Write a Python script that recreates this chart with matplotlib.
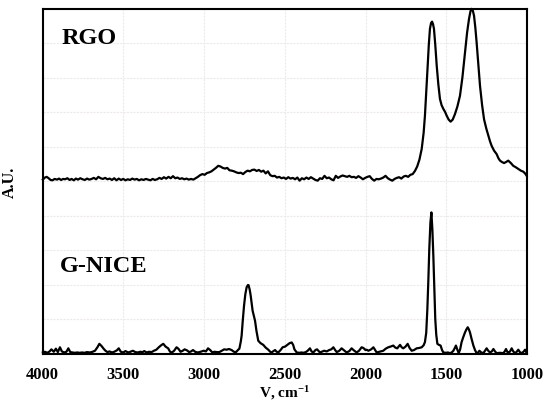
import matplotlib
matplotlib.use("Agg")
import matplotlib.pyplot as plt

plt.rcParams['font.family'] = ['Liberation Serif', 'DejaVu Serif']
plt.rcParams['mathtext.default'] = 'regular'

# ---------------- data ----------------
rgo_wn = [3998, 3985, 3974, 3962, 3950, 3938, 3925, 3910, 3898, 3885, 3872, 3860, 3846, 3832, 3820,
          3806, 3793, 3780, 3766, 3752, 3738, 3724, 3710, 3696, 3682, 3668, 3654, 3640, 3626, 3612,
          3598, 3584, 3570, 3556, 3542, 3528, 3514, 3500, 3486, 3472, 3458, 3444, 3430, 3416, 3402,
          3388, 3374, 3360, 3346, 3332, 3318, 3304, 3290, 3276, 3262, 3248, 3234, 3220, 3206, 3192,
          3178, 3164, 3150, 3136, 3122, 3108, 3094, 3080, 3066, 3052, 3038, 3024, 3010, 2996, 2982,
          2968, 2954, 2940, 2926, 2912, 2898, 2884, 2870, 2856, 2842, 2828, 2814, 2800, 2786, 2772,
          2758, 2744, 2730, 2716, 2702, 2688, 2674, 2660, 2646, 2632, 2618, 2604, 2590, 2576, 2562,
          2548, 2534, 2520, 2506, 2492, 2478, 2464, 2450, 2436, 2422, 2408, 2394, 2380, 2366, 2352,
          2338, 2324, 2310, 2296, 2282, 2268, 2254, 2240, 2226, 2212, 2198, 2184, 2170, 2156, 2142,
          2128, 2114, 2100, 2086, 2072, 2058, 2044, 2030, 2016, 2002, 1988, 1974, 1960, 1946, 1932,
          1918, 1904, 1890, 1876, 1862, 1848, 1834, 1820, 1806, 1792, 1778, 1764, 1750, 1736, 1722,
          1708, 1694, 1680, 1666, 1652, 1640, 1632, 1624, 1615, 1608, 1601, 1594, 1588, 1582, 1576,
          1568, 1559, 1549, 1539, 1529, 1518, 1507, 1497, 1485, 1473, 1460, 1446, 1431, 1415, 1400,
          1384, 1371, 1359, 1350, 1343, 1335, 1328, 1320, 1312, 1302, 1291, 1278, 1266, 1252, 1239,
          1229, 1219, 1204, 1188, 1177, 1167, 1155, 1142, 1130, 1116, 1100, 1085, 1070, 1054, 1038,
          1023, 1012, 1002]
rgo_int = [5.04, 5.10, 5.12, 5.08, 5.03, 5.02, 5.06, 5.04, 5.07, 5.03, 5.06, 5.05, 5.08, 5.03, 5.06,
           5.02, 5.07, 5.04, 5.08, 5.05, 5.03, 5.07, 5.04, 5.06, 5.09, 5.05, 5.12, 5.08, 5.06, 5.09,
           5.05, 5.07, 5.03, 5.08, 5.02, 5.07, 5.03, 5.06, 5.02, 5.05, 5.03, 5.07, 5.04, 5.06, 5.02,
           5.05, 5.03, 5.06, 5.04, 5.02, 5.06, 5.03, 5.05, 5.09, 5.06, 5.11, 5.07, 5.12, 5.08, 5.14,
           5.08, 5.10, 5.06, 5.08, 5.05, 5.07, 5.04, 5.06, 5.04, 5.08, 5.12, 5.17, 5.20, 5.18, 5.23,
           5.25, 5.28, 5.33, 5.38, 5.44, 5.42, 5.38, 5.36, 5.38, 5.31, 5.30, 5.28, 5.25, 5.23, 5.24,
           5.20, 5.26, 5.30, 5.28, 5.32, 5.33, 5.29, 5.32, 5.27, 5.30, 5.22, 5.28, 5.17, 5.14, 5.15,
           5.10, 5.12, 5.08, 5.10, 5.06, 5.11, 5.07, 5.09, 5.05, 5.10, 5.01, 5.08, 5.05, 5.10, 5.06,
           5.11, 5.07, 5.03, 5.01, 5.08, 5.06, 5.15, 5.08, 5.10, 5.05, 5.02, 5.15, 5.09, 5.13, 5.16,
           5.14, 5.12, 5.15, 5.11, 5.12, 5.09, 5.14, 5.10, 5.05, 5.09, 5.12, 5.14, 5.06, 5.01, 5.06,
           5.05, 5.07, 5.10, 5.15, 5.08, 5.04, 5.01, 5.06, 5.09, 5.11, 5.07, 5.13, 5.15, 5.12, 5.18,
           5.20, 5.29, 5.42, 5.62, 5.93, 6.40, 6.89, 7.60, 8.34, 8.95, 9.41, 9.58, 9.62, 9.55, 9.41,
           8.95, 8.34, 7.80, 7.38, 7.20, 7.09, 7.00, 6.89, 6.78, 6.72, 6.78, 6.94, 7.16, 7.47, 8.00,
           8.73, 9.30, 9.70, 9.92, 9.99, 9.93, 9.79, 9.45, 9.02, 8.40, 7.76, 7.20, 6.79, 6.52, 6.31,
           6.15, 6.02, 5.88, 5.78, 5.66, 5.59, 5.55, 5.52, 5.55, 5.59, 5.52, 5.44, 5.40, 5.35, 5.30,
           5.27, 5.22, 5.15]

gnice_wn = [3998, 3985, 3970, 3956, 3945, 3930, 3917, 3905, 3892, 3880, 3866, 3852, 3840, 3828, 3815,
            3800, 3785, 3770, 3755, 3740, 3725, 3706, 3690, 3675, 3660, 3648, 3635, 3620, 3610, 3598,
            3585, 3570, 3556, 3540, 3528, 3515, 3500, 3486, 3470, 3456, 3440, 3425, 3410, 3395, 3380,
            3370, 3355, 3340, 3325, 3310, 3295, 3280, 3265, 3252, 3238, 3222, 3210, 3198, 3185, 3170,
            3159, 3145, 3132, 3120, 3105, 3092, 3080, 3068, 3055, 3040, 3028, 3015, 3002, 2988, 2975,
            2962, 2948, 2935, 2920, 2905, 2890, 2875, 2860, 2845, 2829, 2815, 2802, 2790, 2781, 2772,
            2767, 2760, 2752, 2744, 2736, 2728, 2724, 2717, 2711, 2705, 2699, 2692, 2684, 2675, 2664,
            2650, 2633, 2618, 2602, 2590, 2581, 2570, 2560, 2550, 2540, 2526, 2513, 2498, 2484, 2470,
            2457, 2448, 2440, 2426, 2410, 2395, 2385, 2370, 2358, 2344, 2334, 2323, 2310, 2300, 2292,
            2282, 2272, 2256, 2240, 2225, 2212, 2199, 2188, 2178, 2162, 2148, 2135, 2117, 2100, 2086,
            2072, 2055, 2040, 2024, 2013, 2000, 1993, 1982, 1965, 1951, 1940, 1931, 1915, 1900, 1890,
            1875, 1859, 1845, 1828, 1815, 1803, 1795, 1786, 1776, 1766, 1752, 1739, 1727, 1714, 1700,
            1683, 1668, 1652, 1640, 1632, 1624, 1617, 1611, 1605, 1598, 1592, 1586, 1580, 1574, 1568,
            1562, 1555, 1545, 1535, 1526, 1518, 1500, 1490, 1477, 1466, 1456, 1448, 1440, 1432, 1423,
            1414, 1405, 1395, 1384, 1375, 1367, 1360, 1353, 1343, 1332, 1322, 1312, 1302, 1295, 1283,
            1270, 1260, 1250, 1240, 1229, 1218, 1208, 1198, 1188, 1168, 1147, 1138, 1130, 1122, 1116,
            1105, 1095, 1085, 1074, 1064, 1054, 1044, 1033, 1022, 1012, 1006, 1002]
gnice_int = [0.03, 0.05, 0.02, 0.06, 0.12, 0.05, 0.14, 0.04, 0.18, 0.06, 0.03, 0.05, 0.15, 0.04, 0.03,
             0.02, 0.03, 0.02, 0.03, 0.02, 0.04, 0.03, 0.05, 0.08, 0.18, 0.28, 0.22, 0.13, 0.08, 0.04,
             0.06, 0.03, 0.05, 0.09, 0.15, 0.05, 0.03, 0.07, 0.03, 0.05, 0.08, 0.04, 0.03, 0.05, 0.04,
             0.07, 0.03, 0.05, 0.04, 0.08, 0.11, 0.18, 0.24, 0.28, 0.20, 0.15, 0.05, 0.03, 0.08, 0.18,
             0.14, 0.05, 0.08, 0.12, 0.09, 0.04, 0.06, 0.10, 0.05, 0.03, 0.04, 0.06, 0.08, 0.06, 0.15,
             0.10, 0.03, 0.05, 0.04, 0.04, 0.08, 0.12, 0.11, 0.13, 0.10, 0.05, 0.04, 0.10, 0.14, 0.35,
             0.52, 0.95, 1.39, 1.72, 1.92, 1.985, 1.98, 1.85, 1.68, 1.45, 1.24, 1.10, 0.95, 0.65, 0.37,
             0.30, 0.25, 0.17, 0.11, 0.05, 0.03, 0.07, 0.10, 0.05, 0.03, 0.10, 0.18, 0.20, 0.25, 0.30,
             0.32, 0.25, 0.12, 0.03, 0.02, 0.03, 0.02, 0.04, 0.08, 0.15, 0.06, 0.03, 0.10, 0.12, 0.08,
             0.03, 0.05, 0.08, 0.06, 0.10, 0.12, 0.18, 0.10, 0.04, 0.08, 0.15, 0.10, 0.03, 0.07, 0.15,
             0.09, 0.03, 0.08, 0.18, 0.16, 0.10, 0.11, 0.08, 0.12, 0.18, 0.10, 0.03, 0.05, 0.07, 0.08,
             0.14, 0.18, 0.20, 0.23, 0.17, 0.15, 0.20, 0.25, 0.18, 0.15, 0.20, 0.28, 0.16, 0.08, 0.10,
             0.15, 0.16, 0.18, 0.24, 0.33, 0.60, 1.29, 2.10, 3.03, 3.80, 4.09, 3.60, 2.84, 1.90, 1.00,
             0.55, 0.28, 0.25, 0.23, 0.10, 0.03, 0.02, 0.03, 0.01, 0.03, 0.08, 0.15, 0.23, 0.12, 0.01,
             0.12, 0.33, 0.47, 0.61, 0.70, 0.76, 0.70, 0.61, 0.42, 0.23, 0.10, 0.01, 0.03, 0.08, 0.03,
             0.01, 0.08, 0.15, 0.08, 0.03, 0.06, 0.13, 0.06, 0.01, 0.02, 0.01, 0.06, 0.13, 0.05, 0.01,
             0.06, 0.15, 0.06, 0.01, 0.05, 0.11, 0.04, 0.01, 0.05, 0.11, 0.05, 0.01]

x_ticks = [4000, 3500, 3000, 2500, 2000, 1500, 1000]
x_tick_labels = ['4000', '3500', '3000', '2500', '2000', '1500', '1000']
labels = ['RGO', 'G-NICE']

# ---------------- figure ----------------
fig = plt.figure(figsize=(5.47, 4.02), dpi=100)
ax = fig.add_axes([42.5 / 547, (402 - 354.5) / 402, (527 - 42.5) / 547, (354.5 - 9.5) / 402])

ax.plot(rgo_wn, rgo_int, color='black', lw=1.6, solid_joinstyle='round', clip_on=False)
ax.plot(gnice_wn, gnice_int, color='black', lw=1.6, solid_joinstyle='round', clip_on=False)

ax.set_xlim(4000, 1000)
ax.set_ylim(0, 10)
ax.set_xticks(x_ticks)
ax.set_xticklabels(x_tick_labels, fontsize=12, fontweight='bold')
ax.set_yticks(range(0, 11))
ax.set_yticklabels([])
ax.tick_params(axis='x', length=0, pad=9)
ax.tick_params(axis='y', length=0, pad=0)
ax.grid(True, color='#efeaea', lw=0.8, ls=(0, (2, 1)))
ax.set_axisbelow(True)
for s in ax.spines.values():
    s.set_linewidth(1.5)
    s.set_color('black')

ax.set_xlabel(r'V, cm$^{-1}$', fontsize=11, fontweight='bold', labelpad=0.5)
ax.set_ylabel('A.U.', fontsize=11.5, fontweight='bold', labelpad=18)

ax.text(3885, 9.15, labels[0], fontsize=17.5, fontweight='bold', ha='left', va='center')
ax.text(3890, 2.55, labels[1], fontsize=17.5, fontweight='bold', ha='left', va='center')

fig.savefig('out.png', dpi=100)
